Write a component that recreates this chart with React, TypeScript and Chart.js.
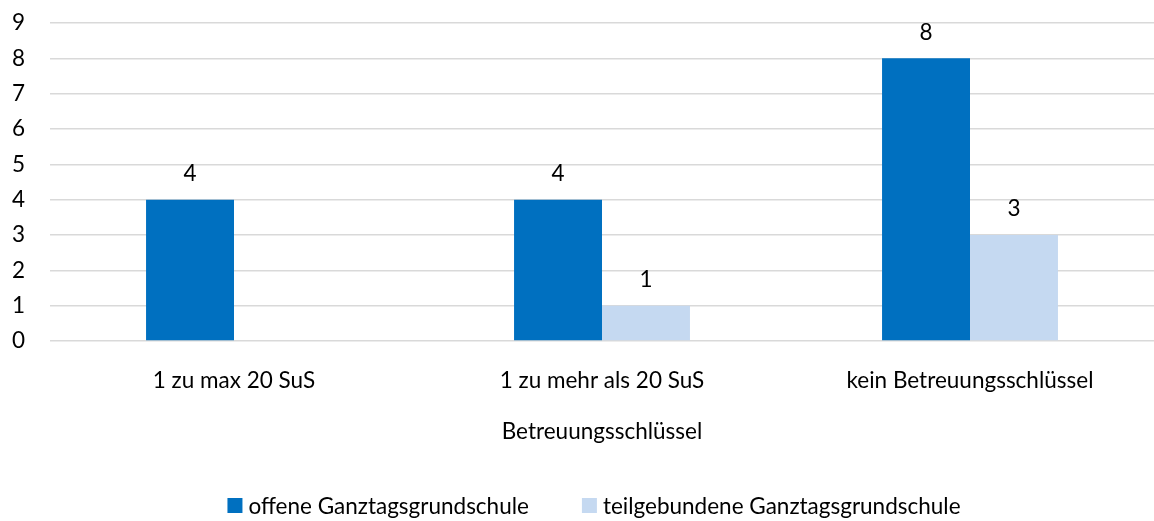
import React, { useEffect, useRef } from "react";
import { Chart, registerables } from "chart.js";

Chart.register(...registerables);

const categories = ["1 zu max 20 SuS", "1 zu mehr als 20 SuS", "kein Betreuungsschlüssel"];
const offeneValues = [4, 4, 8];
const teilgebundeneValues = [0, 1, 3];
const seriesNames = ["offene Ganztagsgrundschule", "teilgebundene Ganztagsgrundschule"];
const seriesColors = ["#0070C0", "#C5D9F1"];
const axisTitle = "Betreuungsschlüssel";
const yMin = 0;
const yMax = 9;
const yStep = 1;

const FONT = "Lato";
const FONT_SIZE = 22.5;
const TEXT_COLOR = "#000000";
const GRID_COLOR = "#D9D9D9";

const dataLabelPlugin = {
  id: "dataLabels",
  afterDatasetsDraw(chart: any) {
    const ctx = chart.ctx;
    ctx.save();
    ctx.font = `${FONT_SIZE}px ${FONT}`;
    ctx.fillStyle = TEXT_COLOR;
    ctx.textAlign = "center";
    ctx.textBaseline = "middle";
    chart.data.datasets.forEach((ds: any, di: number) => {
      const meta = chart.getDatasetMeta(di);
      meta.data.forEach((el: any, i: number) => {
        const v = ds.data[i];
        if (!v) return;
        ctx.fillText(String(v), el.x, el.y - 26);
      });
    });
    ctx.restore();
  },
};

const customLegendPlugin = {
  id: "customLegend",
  afterDraw(chart: any) {
    const ctx = chart.ctx;
    ctx.save();
    ctx.font = `${FONT_SIZE}px ${FONT}`;
    ctx.textBaseline = "middle";
    ctx.textAlign = "left";
    const box = 15;
    const boxGap = 6;
    const itemGap = 53;
    const items = chart.data.datasets.map((ds: any) => ({
      text: ds.label,
      color: ds.backgroundColor,
      w: ctx.measureText(ds.label).width,
    }));
    const total =
      items.reduce((s: number, it: any) => s + box + boxGap + it.w, 0) + itemGap * (items.length - 1);
    const center = (chart.chartArea.left + chart.chartArea.right) / 2 - 8;
    let x = center - total / 2;
    const y = chart.height - 15.5;
    items.forEach((it: any) => {
      ctx.fillStyle = it.color;
      ctx.fillRect(x, y - box / 2, box, box);
      x += box + boxGap;
      ctx.fillStyle = TEXT_COLOR;
      ctx.fillText(it.text, x, y + 1);
      x += it.w + itemGap;
    });
    ctx.restore();
  },
};

export default function App() {
  const canvasRef = useRef<HTMLCanvasElement | null>(null);

  useEffect(() => {
    if (!canvasRef.current) return;
    const chart = new Chart(canvasRef.current, {
      type: "bar",
      data: {
        labels: categories,
        datasets: [
          {
            label: seriesNames[0],
            data: offeneValues,
            backgroundColor: seriesColors[0],
            categoryPercentage: 0.478,
            barPercentage: 1,
          },
          {
            label: seriesNames[1],
            data: teilgebundeneValues,
            backgroundColor: seriesColors[1],
            categoryPercentage: 0.478,
            barPercentage: 1,
          },
        ],
      },
      options: {
        responsive: false,
        devicePixelRatio: 1,
        animation: false,
        layout: { padding: { top: 23, left: 0, right: 0, bottom: 0 } },
        plugins: {
          legend: { display: false },
          tooltip: { enabled: false },
          title: { display: false },
        },
        scales: {
          x: {
            grid: { display: false, drawTicks: false },
            border: { display: false },
            ticks: {
              color: TEXT_COLOR,
              font: { family: FONT, size: FONT_SIZE },
              padding: 26,
              maxRotation: 0,
              autoSkip: false,
            },
            title: {
              display: true,
              text: axisTitle,
              color: TEXT_COLOR,
              font: { family: FONT, size: FONT_SIZE },
              padding: { top: 0, bottom: 76 },
            },
            afterFit(scale: any) {
              scale.height = 180;
            },
          },
          y: {
            min: yMin,
            max: yMax,
            grid: { color: GRID_COLOR, lineWidth: 1.5, drawTicks: false },
            border: { display: false },
            ticks: {
              stepSize: yStep,
              color: TEXT_COLOR,
              font: { family: FONT, size: FONT_SIZE },
              padding: 25,
            },
            afterFit(scale: any) {
              scale.width = 50;
              scale.paddingTop = 0;
              scale.paddingBottom = 0;
            },
          },
        },
      },
      plugins: [dataLabelPlugin, customLegendPlugin],
    } as any);
    return () => chart.destroy();
  }, []);

  return (
    <canvas
      ref={canvasRef}
      width={1154}
      height={521}
      style={{ position: "absolute", left: 0, top: 0, width: 1154, height: 521 }}
    />
  );
}
